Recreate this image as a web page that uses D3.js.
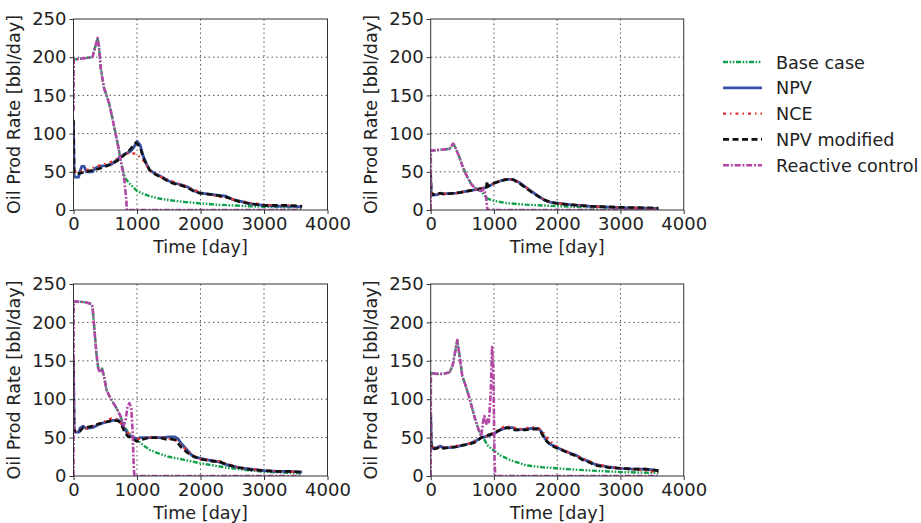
<!DOCTYPE html>
<html>
<head>
<meta charset="utf-8">
<style>
body { margin: 0; background: #fff; }
text { font-family: "DejaVu Sans", sans-serif; fill: #222; }
</style>
<script src="https://cdn.jsdelivr.net/npm/d3@7/dist/d3.min.js"></script>
</head>
<body>
<div id="chart"></div>
<script>

var seriesNames = ["Base case", "NPV", "NCE", "NPV modified", "Reactive control"];
var xTicks = [0, 1000, 2000, 3000, 4000];
var yTicks = [0, 50, 100, 150, 200, 250];

// panel 1 (top left)
var p1Base = [[0,197],[100,198],[200,199],[300,200],[330,210],[380,225],[400,215],[430,185],[480,160],[520,150],[560,140],[600,125],[650,105],[700,85],[750,62],[800,45],[830,40],[900,33],[1000,25],[1100,21],[1200,18],[1350,15],[1500,13],[1750,10.5],[2000,8.7],[2250,7],[2500,6],[2750,5],[3000,4.3],[3300,3.7],[3600,3.2]];
var p1Npv = [[0,115],[10,43],[80,43],[100,50],[130,57],[170,57],[200,50],[300,50],[350,55],[400,57],[500,58],[600,60],[700,67],[800,73],[900,77],[950,82],[1000,90],[1050,85],[1100,70],[1150,60],[1200,52],[1300,47],[1400,43],[1500,38],[1600,35],[1700,33],[1800,30],[1900,25],[2000,22],[2200,20],[2400,18],[2500,14],[2600,12],[2800,8],[3000,6],[3200,5],[3400,5],[3600,4]];
var p1Nce = [[0,50],[200,52],[400,58],[600,63],[800,72],[900,75],[1000,73],[1100,65],[1200,52],[1400,42],[1600,36],[1800,30],[2000,23],[2200,19],[2400,16],[2600,12],[2800,9],[3000,7],[3200,6],[3400,6],[3600,5]];
var p1Mod = [[0,118],[10,48],[100,48],[200,50],[300,52],[400,54],[500,57],[600,60],[700,65],[800,72],[900,80],[980,88],[1000,87],[1050,82],[1100,68],[1200,52],[1300,46],[1400,42],[1500,37],[1600,34],[1700,32],[1800,29],[1900,24],[2000,22],[2200,20],[2400,17],[2500,14],[2600,11],[2800,8],[3000,6],[3200,6],[3400,6],[3600,5]];
var p1React = [[0,130],[5,197],[100,198],[200,199],[300,200],[330,210],[380,225],[400,215],[430,185],[480,160],[520,150],[560,140],[600,125],[650,105],[700,85],[750,62],[800,40],[830,15],[840,0],[3600,0]];

// panel 2 (top right)
var p2Base = [[0,78],[50,78],[300,80],[356,87],[400,80],[450,70],[500,58],[550,48],[600,40],[650,33],[700,29],[750,26],[800,25],[840,20],[900,15],[1000,12],[1200,9],[1500,7],[2000,5],[2500,3.5],[3000,2.5],[3600,1.8]];
var p2Npv = [[0,40],[10,19],[100,20],[150,22],[200,21],[400,22],[600,25],[800,28],[900,30],[1000,35],[1100,38],[1200,40],[1300,40],[1400,36],[1500,30],[1600,24],[1700,18],[1800,13],[1900,10],[2000,9],[2200,7],[2500,5],[3000,3],[3600,2]];
var p2Nce = [[0,22],[100,21],[200,21],[400,22],[600,25],[800,28],[900,31],[1000,35],[1100,38],[1200,41],[1300,40],[1400,36],[1500,30],[1600,24],[1700,18],[1800,13],[1900,10],[2000,9],[2200,7],[2500,5],[3000,3],[3600,2]];
var p2Mod = [[0,48],[10,20],[100,21],[150,22],[200,21],[400,22],[600,25],[800,28],[880,30],[890,38],[900,31],[1000,35],[1100,38],[1200,40],[1300,40],[1400,35],[1500,29],[1600,23],[1700,18],[1800,13],[1900,10],[2000,8.5],[2200,7],[2500,5],[3000,3.5],[3600,2.5]];
var p2React = [[0,0],[3,78],[50,78],[300,80],[356,87],[400,80],[450,70],[500,58],[550,48],[600,40],[650,33],[700,29],[750,26],[800,25],[840,27],[870,20],[890,5],[900,0],[3600,0]];

// panel 3 (bottom left)
var p3Base = [[0,227],[100,227],[200,226],[280,224],[300,220],[330,190],[360,160],[390,140],[420,135],[450,140],[480,130],[520,112],[560,105],[620,96],[680,88],[740,78],[790,66],[850,58],[900,54],[1000,47],[1100,40],[1200,34],[1350,29],[1500,25],[1750,21],[2000,16.5],[2250,13],[2500,10],[2750,7.5],[3000,5.6],[3300,4.5],[3600,3.5]];
var p3Npv = [[0,150],[10,57],[80,57],[100,62],[150,65],[200,62],[300,63],[400,67],[500,70],[600,72],[700,73],[750,70],[800,62],[850,55],[900,52],[950,50],[1000,48],[1050,50],[1200,50],[1400,50],[1500,51],[1600,51],[1650,48],[1700,42],[1800,33],[1850,28],[1900,25],[2000,23],[2100,21],[2200,20],[2300,18],[2400,15],[2600,11],[2800,9],[3000,7],[3200,6],[3400,6],[3600,5]];
var p3Nce = [[0,58],[100,60],[200,62],[400,68],[600,75],[700,74],[800,62],[900,52],[1000,48],[1200,50],[1400,50],[1600,47],[1700,40],[1800,32],[1900,26],[2000,22],[2300,19],[2600,11],[3000,7],[3600,5]];
var p3Mod = [[0,150],[10,58],[100,58],[150,63],[200,63],[300,65],[400,68],[500,70],[600,72],[700,72],[750,68],[800,58],[850,52],[900,50],[950,47],[1000,45],[1050,47],[1200,50],[1350,50],[1450,48],[1550,48],[1600,47],[1650,42],[1700,37],[1800,30],[1900,25],[2000,22],[2200,19],[2300,19],[2400,15],[2600,11],[2800,8],[3000,7],[3200,6],[3400,6],[3600,5]];
var p3React = [[0,0],[3,227],[100,227],[200,226],[280,224],[300,220],[330,190],[360,160],[390,140],[420,135],[450,140],[480,130],[520,112],[560,105],[620,96],[680,88],[740,78],[790,66],[820,72],[850,90],[880,95],[910,88],[930,60],[950,10],[960,0],[3600,0]];

// panel 4 (bottom right)
var p4Base = [[0,134],[100,133],[200,133],[300,135],[350,145],[400,168],[420,177],[450,160],[500,130],[550,118],[600,105],[650,90],[700,75],[750,62],[800,52],[850,47],[900,40],[1000,33],[1100,27],[1250,21],[1500,14],[1750,11.5],[2000,10],[2250,8.5],[2550,7],[3050,5],[3600,4]];
var p4Npv = [[0,80],[10,36],[100,37],[150,39],[200,37],[300,37],[400,38],[500,40],[600,42],[700,45],[800,50],[900,52],[1000,55],[1100,60],[1200,63],[1300,63],[1350,60],[1500,61],[1600,62],[1700,62],[1750,58],[1800,50],[1850,44],[1900,41],[2000,37],[2100,33],[2200,30],[2300,27],[2400,22],[2500,19],[2600,15],[2800,12],[3000,10],[3200,9],[3400,9],[3500,8],[3600,7]];
var p4Nce = [[0,38],[100,38],[200,37],[400,39],[600,42],[800,50],[900,52],[1000,56],[1100,62],[1200,65],[1300,63],[1400,61],[1500,62],[1650,64],[1750,60],[1850,48],[2000,38],[2200,30],[2400,23],[2600,16],[2800,12],[3000,10],[3300,8],[3600,5]];
var p4Mod = [[0,82],[10,35],[100,36],[150,38],[200,36],[300,37],[400,38],[500,40],[600,41],[700,44],[800,50],[900,53],[1000,56],[1100,60],[1200,63],[1250,62],[1300,60],[1400,60],[1500,60],[1600,61],[1700,61],[1750,56],[1800,48],[1900,40],[2000,36],[2100,33],[2200,29],[2300,26],[2400,21],[2500,18],[2600,14],[2800,11],[3000,10],[3200,9],[3400,9],[3600,7]];
var p4React = [[0,0],[3,134],[100,133],[200,133],[300,135],[350,145],[400,168],[420,177],[450,160],[500,130],[550,118],[600,105],[650,90],[700,75],[750,62],[800,52],[830,72],[850,78],[880,68],[900,75],[920,70],[950,110],[970,168],[990,140],[1000,80],[1010,20],[1020,0],[3600,0]];

var styles = [
  { color: "#13a04c", dash: "5,1.6,1.6,1.6,1.6,1.6", width: 2.4 },
  { color: "#3652a6", dash: null, width: 2.8 },
  { color: "#e8322f", dash: "3,4,1.5,4", width: 2.4 },
  { color: "#111111", dash: "6,3.5", width: 2.6 },
  { color: "#b446a8", dash: "6,1.8,2,1.8", width: 2.6 }
];

var panels = [
  { left: 73.5, top: 19, width: 254, height: 191, data: [p1Base, p1Npv, p1Nce, p1Mod, p1React] },
  { left: 430.7, top: 19, width: 253, height: 191, data: [p2Base, p2Npv, p2Nce, p2Mod, p2React] },
  { left: 73.5, top: 284, width: 254, height: 192, data: [p3Base, p3Npv, p3Nce, p3Mod, p3React] },
  { left: 430.7, top: 284, width: 253, height: 192, data: [p4Base, p4Npv, p4Nce, p4Mod, p4React] }
];

var svg = d3.select("#chart").append("svg")
    .attr("width", 921)
    .attr("height", 523);

panels.forEach(function(p, i) {
    var x = d3.scaleLinear().domain([0, 4000]).range([0, p.width]);
    var y = d3.scaleLinear().domain([0, 250]).range([p.height, 0]);
    var g = svg.append("g").attr("transform", "translate(" + p.left + "," + p.top + ")");

    // grid
    g.selectAll(".gx").data(xTicks.slice(1, -1)).enter().append("line")
        .attr("x1", function(d) { return x(d); }).attr("x2", function(d) { return x(d); })
        .attr("y1", 0).attr("y2", p.height)
        .attr("stroke", "#555").attr("stroke-width", 1).attr("stroke-dasharray", "1.5,3");
    g.selectAll(".gy").data(yTicks.slice(1, -1)).enter().append("line")
        .attr("y1", function(d) { return y(d); }).attr("y2", function(d) { return y(d); })
        .attr("x1", 0).attr("x2", p.width)
        .attr("stroke", "#555").attr("stroke-width", 1).attr("stroke-dasharray", "1.5,3");

    var clipId = "clip" + i;
    g.append("clipPath").attr("id", clipId).append("rect")
        .attr("width", p.width).attr("height", p.height);

    var line = d3.line()
        .x(function(d) { return x(d[0]); })
        .y(function(d) { return y(d[1]); });

    p.data.forEach(function(s, k) {
        var st = styles[k];
        g.append("path")
            .datum(s)
            .attr("clip-path", "url(#" + clipId + ")")
            .attr("d", line)
            .attr("fill", "none")
            .attr("stroke", st.color)
            .attr("stroke-width", st.width)
            .attr("stroke-linejoin", "round")
            .attr("stroke-dasharray", st.dash);
    });

    var xAxis = g.append("g").attr("transform", "translate(0," + p.height + ")")
        .call(d3.axisBottom(x).tickValues(xTicks).tickFormat(d3.format("d")).tickSize(4).tickPadding(3));
    var yAxis = g.append("g")
        .call(d3.axisLeft(y).tickValues(yTicks).tickFormat(d3.format("d")).tickSize(4).tickPadding(3));
    [xAxis, yAxis].forEach(function(a) {
        a.select(".domain").remove();
        a.selectAll("line").attr("stroke", "#333");
        a.selectAll("text").style("font-size", "18px").style("font-family", "DejaVu Sans").attr("fill", "#222");
    });

    g.append("rect")
        .attr("width", p.width).attr("height", p.height)
        .attr("fill", "none").attr("stroke", "#333").attr("stroke-width", 1);

    g.append("text")
        .attr("x", p.width / 2).attr("y", p.height + 43)
        .attr("text-anchor", "middle")
        .style("font-size", "17.6px")
        .text("Time [day]");

    g.append("text")
        .attr("transform", "translate(-54," + (p.height / 2) + ") rotate(-90)")
        .attr("text-anchor", "middle")
        .style("font-size", "17.6px")
        .text("Oil Prod Rate [bbl/day]");
});

// legend
var legend = svg.append("g").attr("transform", "translate(723,62)");
seriesNames.forEach(function(name, k) {
    var st = styles[k];
    var row = legend.append("g").attr("transform", "translate(0," + (k * 25.8) + ")");
    row.append("line")
        .attr("x1", 0).attr("x2", 39).attr("y1", 0).attr("y2", 0)
        .attr("stroke", st.color).attr("stroke-width", st.width)
        .attr("stroke-dasharray", st.dash);
    row.append("text")
        .attr("x", 53).attr("y", 6.5)
        .style("font-size", "17.6px")
        .text(name);
});

</script>
</body>
</html>
